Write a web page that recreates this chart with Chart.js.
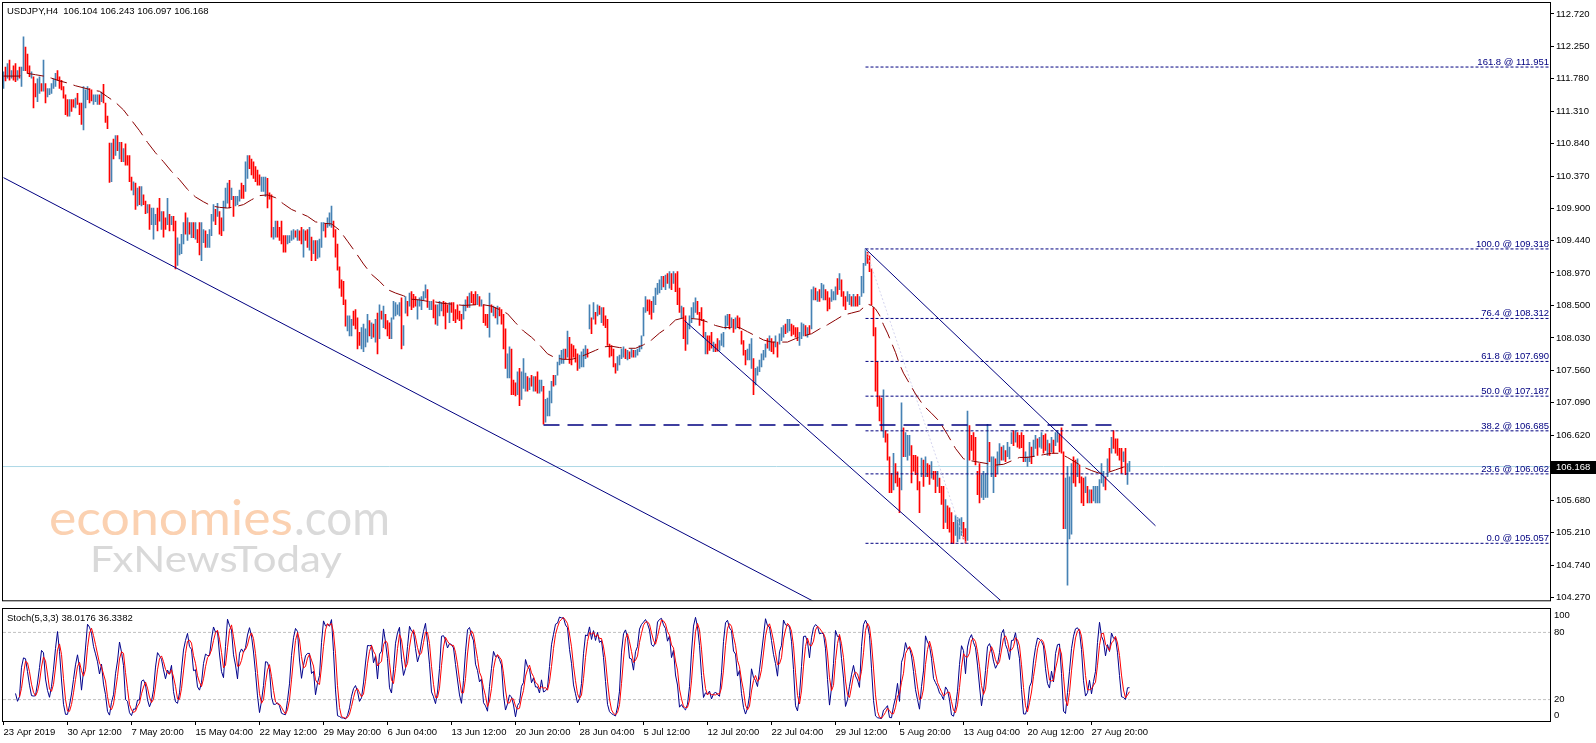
<!DOCTYPE html>
<html>
<head>
<meta charset="utf-8">
<script src="https://cdn.jsdelivr.net/npm/chart.js@4.4.1/dist/chart.umd.min.js"></script>
<style>
  html, body { margin: 0; padding: 0; background: #fff; overflow: hidden; }
  #wrap { position: relative; width: 1596px; height: 743px; }
  canvas { position: absolute; left: 0; }
  #mainCanvas { top: 0; }
  #oscCanvas { top: 608px; }
</style>
</head>
<body>
<div id="wrap">
  <canvas id="mainCanvas" width="1596" height="608"></canvas>
  <canvas id="oscCanvas" width="1596" height="135"></canvas>
</div>
<script>
// USDJPY H4 bars, 23 Apr - 2 Sep 2019 (one entry per bar)
const highs = [
  111.88,111.95,112.00,112.05,111.90,111.97,112.00,111.90,111.95,111.95,
  112.39,112.24,112.14,111.97,111.88,111.81,111.71,111.78,111.81,111.71,
  112.05,111.71,111.64,111.64,111.71,111.78,111.86,111.90,111.81,111.76,
  111.67,111.55,111.48,111.48,111.48,111.48,111.50,111.57,111.43,111.43,
  111.67,111.62,111.67,111.64,111.62,111.55,111.55,111.55,111.55,111.59,
  111.70,111.43,111.24,110.85,110.85,110.91,110.96,110.96,110.86,110.86,
  110.77,110.84,110.67,110.67,110.36,110.29,110.27,110.20,110.22,110.22,
  110.10,110.01,109.96,109.96,109.91,109.91,109.82,109.91,110.05,109.86,
  109.86,109.77,110.05,109.82,109.79,109.79,109.72,109.48,109.39,109.53,
  109.70,109.84,109.77,109.70,109.70,109.70,109.70,109.60,109.70,109.70,
  109.60,109.58,109.53,109.60,109.82,109.96,109.89,109.98,109.86,109.77,
  110.01,110.20,110.27,110.31,110.20,110.08,110.08,110.08,110.17,110.27,
  110.24,110.58,110.67,110.67,110.62,110.58,110.51,110.46,110.39,110.36,
  110.36,110.36,110.34,110.13,110.10,109.63,109.72,109.72,109.63,109.72,
  109.51,109.51,109.51,109.51,109.58,109.60,109.58,109.60,109.58,109.63,
  109.60,109.58,109.60,109.63,109.49,109.44,109.44,109.44,109.46,109.70,
  109.70,109.68,109.77,109.84,109.94,109.72,109.60,109.39,109.06,108.87,
  108.85,108.58,108.35,108.35,108.30,108.42,108.44,108.32,108.11,108.18,
  108.23,108.16,108.37,108.28,108.25,108.23,108.30,108.39,108.51,108.42,
  108.49,108.37,108.28,108.25,108.32,108.56,108.54,108.51,108.54,108.61,
  108.21,108.63,108.56,108.68,108.70,108.66,108.63,108.58,108.61,108.63,
  108.70,108.80,108.73,108.56,108.56,108.58,108.51,108.51,108.56,108.54,
  108.56,108.54,108.51,108.54,108.54,108.54,108.44,108.51,108.42,108.37,
  108.51,108.58,108.63,108.68,108.70,108.66,108.70,108.66,108.63,108.58,
  108.51,108.37,108.37,108.68,108.51,108.49,108.47,108.49,108.47,108.44,
  108.37,108.16,107.80,107.90,107.87,107.42,107.38,107.54,107.59,107.54,
  107.73,107.52,107.47,107.45,107.49,107.47,107.47,107.54,107.42,107.42,
  107.33,107.14,107.16,107.26,107.40,107.49,107.49,107.68,107.78,107.85,
  107.87,107.87,108.13,108.04,107.94,107.92,107.87,107.80,107.78,107.83,
  107.87,107.92,107.87,108.51,108.32,108.54,108.40,108.51,108.49,108.47,
  108.47,108.35,108.30,107.94,107.92,107.87,107.66,107.76,107.78,107.87,
  107.90,107.87,107.85,107.83,107.87,107.85,107.85,107.87,107.92,108.06,
  108.47,108.63,108.58,108.58,108.56,108.63,108.75,108.82,108.87,108.92,
  108.92,108.94,108.96,108.99,108.96,108.99,108.96,108.99,108.75,108.49,
  108.47,108.35,108.23,108.35,108.47,108.54,108.61,108.56,108.40,108.47,
  108.30,108.11,108.06,108.06,108.11,107.97,107.94,108.02,107.99,108.09,
  108.11,108.35,108.37,108.37,108.32,108.30,108.32,108.35,108.32,108.13,
  107.99,107.85,107.87,107.94,108.02,107.73,107.59,107.61,107.71,107.80,
  107.85,107.94,108.02,108.06,108.02,107.97,108.06,107.97,108.09,108.18,
  108.21,108.23,108.30,108.30,108.23,108.21,108.18,108.18,108.11,108.25,
  108.23,108.21,108.18,108.21,108.73,108.77,108.75,108.70,108.73,108.82,
  108.80,108.73,108.70,108.61,108.73,108.70,108.77,108.89,108.96,108.87,
  108.70,108.63,108.70,108.66,108.63,108.66,108.63,108.66,108.63,108.92,
  109.11,109.32,109.27,109.22,109.03,108.47,108.18,107.68,107.19,107.16,
  107.28,106.69,106.64,106.31,106.07,106.36,106.21,106.09,106.00,107.09,
  106.73,106.66,106.62,106.62,106.47,106.33,106.33,106.31,105.95,106.29,
  106.26,106.31,106.21,106.19,106.24,106.10,106.10,106.10,106.00,105.88,
  105.88,105.69,105.60,105.57,105.50,105.36,105.46,105.43,105.41,105.43,
  105.36,105.27,106.97,106.76,106.62,106.66,106.59,106.10,106.21,106.05,
  106.10,106.07,106.78,106.52,106.31,106.31,106.28,106.38,106.50,106.45,
  106.47,106.40,106.52,106.45,106.66,106.69,106.69,106.66,106.62,106.66,
  106.62,106.38,106.31,106.52,106.45,106.55,106.62,106.57,106.59,106.66,
  106.62,106.64,106.55,106.50,106.59,106.55,106.66,106.69,106.64,106.73,
  106.38,106.00,106.17,106.02,106.21,106.31,106.26,106.28,106.19,106.02,
  106.00,106.02,105.88,105.83,105.83,105.88,105.88,105.88,105.98,106.21,
  106.10,106.02,106.28,106.43,106.59,106.69,106.57,106.57,106.43,106.43,
  106.38,106.43,106.21,106.243
];
const lows = [
  111.64,111.75,111.79,111.76,111.79,111.76,111.74,111.76,111.79,111.67,
  111.90,111.90,111.86,111.81,111.79,111.36,111.52,111.45,111.57,111.60,
  111.60,111.43,111.52,111.55,111.57,111.64,111.67,111.76,111.64,111.62,
  111.50,111.26,111.24,111.24,111.31,111.37,111.36,111.41,111.26,111.12,
  111.04,111.36,111.48,111.43,111.46,111.41,111.45,111.41,111.41,111.45,
  111.43,111.15,111.06,110.28,110.29,110.62,110.67,110.74,110.62,110.58,
  110.58,110.53,110.53,110.29,110.17,110.10,109.89,109.94,109.96,109.94,
  109.96,109.83,109.84,109.60,109.67,109.46,109.67,109.58,109.72,109.60,
  109.49,109.60,109.67,109.58,109.67,109.58,109.03,109.08,109.23,109.25,
  109.39,109.53,109.44,109.53,109.48,109.48,109.46,109.41,109.23,109.15,
  109.41,109.34,109.34,109.34,109.51,109.72,109.67,109.79,109.53,109.51,
  109.58,109.91,109.98,109.91,110.03,109.79,109.94,109.96,110.01,110.05,
  110.05,110.15,110.34,110.48,110.39,110.34,110.29,110.24,110.24,110.15,
  110.15,110.08,109.91,110.04,109.49,109.46,109.49,109.49,109.44,109.39,
  109.27,109.27,109.39,109.41,109.44,109.46,109.49,109.44,109.44,109.39,
  109.20,109.44,109.34,109.30,109.15,109.25,109.15,109.18,109.20,109.34,
  109.58,109.49,109.63,109.65,109.63,109.49,109.20,109.01,108.75,108.63,
  108.51,108.20,108.13,108.06,108.06,108.21,108.16,107.87,107.92,107.87,
  107.83,107.90,107.97,108.06,108.02,108.04,107.97,107.80,108.02,108.30,
  108.18,108.16,108.06,108.02,108.02,108.30,108.35,108.37,108.35,107.87,
  107.92,108.39,108.35,108.49,108.44,108.47,108.49,108.30,108.49,108.44,
  108.58,108.61,108.47,108.44,108.44,108.32,108.23,108.21,108.35,108.42,
  108.35,108.16,108.40,108.25,108.40,108.28,108.25,108.30,108.28,108.16,
  108.30,108.42,108.47,108.47,108.54,108.51,108.51,108.51,108.49,108.49,
  108.25,108.21,108.18,108.04,108.40,108.35,108.32,108.23,108.35,108.23,
  107.87,107.59,107.45,107.45,107.21,107.21,107.19,107.21,107.05,107.14,
  107.30,107.26,107.26,107.28,107.33,107.26,107.26,107.23,107.23,107.26,
  106.78,106.81,106.90,106.90,107.09,107.33,107.35,107.49,107.64,107.66,
  107.66,107.73,107.75,107.66,107.64,107.75,107.68,107.56,107.59,107.61,
  107.61,107.73,107.75,108.16,108.09,108.30,108.23,108.35,108.37,108.25,
  108.21,108.18,107.92,107.75,107.77,107.61,107.52,107.56,107.64,107.73,
  107.75,107.73,107.71,107.73,107.75,107.75,107.75,107.78,107.83,107.87,
  108.06,108.40,108.42,108.37,108.30,108.40,108.51,108.66,108.68,108.73,
  108.77,108.73,108.82,108.75,108.73,108.82,108.70,108.51,108.40,108.32,
  108.02,107.85,107.94,108.16,108.25,108.32,108.40,108.37,108.21,108.28,
  108.04,107.80,107.80,107.85,107.88,107.83,107.83,107.84,107.85,107.92,
  107.90,108.16,108.21,108.16,108.18,108.11,108.16,108.18,108.16,107.94,
  107.78,107.64,107.71,107.71,107.59,107.21,107.35,107.49,107.54,107.61,
  107.71,107.75,107.88,107.85,107.83,107.80,107.90,107.75,107.94,107.99,
  108.04,108.09,108.11,108.13,108.06,108.08,108.04,107.99,107.92,108.02,
  108.06,108.06,108.04,108.09,108.16,108.58,108.58,108.56,108.56,108.61,
  108.58,108.58,108.42,108.45,108.56,108.58,108.58,108.66,108.73,108.63,
  108.49,108.44,108.56,108.51,108.49,108.49,108.49,108.49,108.51,108.63,
  108.68,109.08,109.11,108.99,108.51,108.06,107.26,107.04,106.83,106.69,
  106.59,106.52,106.26,105.79,105.79,105.83,105.93,105.88,105.50,105.83,
  106.31,106.31,106.26,106.33,105.93,106.10,106.05,105.83,105.50,106.02,
  105.88,106.02,106.02,105.91,106.00,105.98,105.79,105.88,105.79,105.62,
  105.27,105.36,105.27,105.22,105.05,105.05,105.17,105.08,105.12,105.17,
  105.12,105.06,105.10,106.26,106.40,106.26,106.19,105.76,105.64,105.72,
  105.69,105.72,105.72,106.24,106.02,105.79,106.02,106.07,106.19,106.26,
  106.26,106.24,106.31,106.28,106.50,106.47,106.52,106.45,106.43,106.44,
  106.24,106.24,106.17,106.24,106.21,106.31,106.43,106.33,106.45,106.43,
  106.36,106.40,106.33,106.33,106.38,106.36,106.47,106.52,106.38,106.36,
  105.27,105.27,104.45,105.12,105.19,105.93,105.88,106.02,105.93,105.64,
  105.60,105.79,105.64,105.64,105.64,105.67,105.64,105.64,105.64,105.93,
  105.88,105.83,106.02,106.10,106.36,106.43,106.36,106.33,106.26,106.07,
  106.24,106.05,105.91,106.097
];
const closes = [
  111.85,111.78,111.93,111.80,111.85,111.78,111.76,111.86,111.80,111.93,
  112.10,111.98,111.90,111.84,111.87,111.62,111.55,111.70,111.76,111.63,
  111.75,111.50,111.58,111.62,111.68,111.74,111.82,111.78,111.68,111.64,
  111.53,111.30,111.28,111.42,111.40,111.38,111.45,111.43,111.30,111.20,
  111.55,111.58,111.64,111.50,111.48,111.52,111.54,111.55,111.44,111.56,
  111.46,111.20,111.10,110.35,110.78,110.68,110.90,110.78,110.82,110.63,
  110.72,110.58,110.55,110.33,110.20,110.26,109.95,110.12,110.00,110.15,
  109.99,109.86,109.93,109.66,109.72,109.76,109.80,109.78,109.74,109.80,
  109.68,109.62,109.95,109.62,109.75,109.62,109.10,109.30,109.36,109.50,
  109.65,109.60,109.72,109.56,109.66,109.52,109.64,109.45,109.30,109.50,
  109.55,109.40,109.48,109.55,109.78,109.90,109.72,109.92,109.60,109.55,
  109.95,110.15,110.22,110.10,110.16,109.85,110.05,110.07,110.14,110.08,
  110.06,110.50,110.60,110.52,110.45,110.38,110.33,110.28,110.26,110.32,
  110.34,110.35,110.10,110.06,109.55,109.60,109.68,109.52,109.48,109.42,
  109.30,109.29,109.48,109.50,109.55,109.58,109.51,109.57,109.47,109.43,
  109.55,109.46,109.38,109.55,109.20,109.38,109.22,109.35,109.42,109.65,
  109.68,109.54,109.74,109.80,109.88,109.52,109.25,109.05,108.80,108.66,
  108.55,108.22,108.26,108.28,108.29,108.24,108.20,107.95,107.93,108.10,
  108.15,108.16,108.30,108.10,108.20,108.08,108.25,107.90,108.45,108.32,
  108.40,108.20,108.10,108.05,108.28,108.42,108.45,108.48,108.50,107.95,
  108.15,108.58,108.40,108.62,108.55,108.53,108.51,108.55,108.58,108.60,
  108.66,108.75,108.52,108.54,108.55,108.38,108.28,108.46,108.50,108.52,
  108.45,108.43,108.41,108.48,108.42,108.36,108.34,108.32,108.30,108.20,
  108.45,108.55,108.50,108.62,108.58,108.55,108.53,108.62,108.52,108.56,
  108.30,108.25,108.22,108.45,108.42,108.46,108.36,108.44,108.38,108.28,
  107.95,107.65,107.72,107.82,107.28,107.24,107.22,107.48,107.12,107.35,
  107.40,107.46,107.30,107.40,107.36,107.42,107.30,107.28,107.36,107.40,
  106.85,107.05,107.10,107.20,107.35,107.34,107.45,107.63,107.74,107.80,
  107.84,107.76,108.05,107.85,107.80,107.77,107.72,107.60,107.72,107.78,
  107.82,107.88,107.78,108.45,108.15,108.48,108.28,108.45,108.40,108.44,
  108.30,108.22,107.98,107.80,107.79,107.66,107.55,107.70,107.75,107.84,
  107.86,107.78,107.82,107.76,107.84,107.78,107.83,107.85,107.90,108.02,
  108.40,108.58,108.46,108.42,108.35,108.58,108.70,108.78,108.83,108.88,
  108.80,108.90,108.85,108.95,108.80,108.94,108.76,108.58,108.45,108.47,
  108.10,107.92,108.18,108.30,108.42,108.50,108.57,108.42,108.36,108.32,
  108.08,108.10,107.95,107.93,107.90,107.94,107.86,107.85,107.95,108.05,
  108.08,108.30,108.33,108.22,108.29,108.16,108.27,108.22,108.19,107.98,
  107.82,107.68,107.80,107.88,107.95,107.30,107.52,107.58,107.66,107.75,
  107.82,107.90,107.89,108.02,107.88,107.84,108.02,107.80,108.05,108.14,
  108.18,108.12,108.26,108.28,108.10,108.09,108.06,108.02,108.08,108.20,
  108.22,108.10,108.15,108.12,108.65,108.72,108.62,108.66,108.60,108.78,
  108.79,108.62,108.48,108.46,108.68,108.69,108.74,108.70,108.90,108.68,
  108.54,108.48,108.65,108.66,108.52,108.62,108.53,108.51,108.60,108.88,
  109.05,109.25,109.15,109.03,108.58,108.12,107.35,107.10,106.90,106.75,
  107.05,106.55,106.32,105.85,105.82,106.25,106.00,105.92,105.58,106.90,
  106.40,106.58,106.60,106.61,106.20,106.14,106.09,105.90,105.55,106.20,
  105.95,106.25,106.05,105.98,106.18,106.00,105.85,106.05,105.82,105.66,
  105.55,105.62,105.32,105.26,105.10,105.07,105.25,105.30,105.38,105.41,
  105.18,105.10,106.70,106.50,106.45,106.30,106.25,105.80,105.70,105.98,
  106.05,106.06,106.60,106.27,106.29,106.30,106.08,106.32,106.45,106.30,
  106.42,106.28,106.38,106.42,106.62,106.52,106.64,106.50,106.46,106.45,
  106.26,106.28,106.29,106.45,106.28,106.50,106.58,106.40,106.55,106.62,
  106.42,106.41,106.50,106.38,106.55,106.40,106.62,106.66,106.45,106.40,
  105.35,105.40,105.60,105.90,106.10,106.00,105.95,106.20,105.98,105.70,
  105.66,105.95,105.70,105.78,105.68,105.82,105.85,105.86,105.94,106.00,
  106.05,105.88,106.22,106.15,106.52,106.48,106.40,106.38,106.30,106.12,
  106.32,106.08,106.10,106.168
];

// moving average (bar index -> value)
const maIdx = [0,8,12,16,20,24,28,32,36,40,44,48,52,56,60,64,68,72,76,80,84,88,92,96,100,104,108,112,116,120,
  124,128,132,136,140,144,148,152,156,160,164,168,172,176,180,184,188,192,196,200,204,208,212,216,220,224,230,236,240,244,
  248,252,256,260,264,268,272,276,280,284,288,292,296,300,304,308,312,316,320,324,328,332,336,340,344,348,352,356,360,364,
  368,372,376,380,384,388,392,396,400,404,408,412,416,420,424,428,432,434,436,438,440,442,444,446,448,450,452,456,460,464,
  468,472,476,480,484,488,492,496,500,504,508,512,516,520,524,528,532,536,540,544,548,552,556,560,563];
const maVal = [111.82,111.82,111.86,111.84,111.82,111.79,111.75,111.72,111.68,111.65,111.62,111.60,111.52,111.44,111.33,111.18,111.03,110.86,110.71,110.58,110.44,110.32,110.18,110.07,110.00,109.94,109.92,109.91,109.93,109.96,
  110.03,110.09,110.10,110.06,109.97,109.89,109.84,109.79,109.71,109.69,109.68,109.59,109.43,109.27,109.10,108.95,108.85,108.73,108.68,108.64,108.59,108.58,108.56,108.55,108.53,108.52,108.50,108.51,108.51,108.49,
  108.44,108.38,108.25,108.13,108.04,107.93,107.80,107.74,107.72,107.72,107.75,107.80,107.85,107.90,107.91,107.89,107.88,107.88,107.93,108.00,108.10,108.18,108.29,108.32,108.31,108.30,108.26,108.21,108.18,108.18,
  108.18,108.12,108.06,108.00,107.97,107.97,107.97,108.02,108.06,108.09,108.16,108.22,108.29,108.36,108.39,108.42,108.52,108.50,108.45,108.36,108.22,108.10,107.96,107.82,107.65,107.52,107.42,107.22,107.05,106.94,
  106.82,106.63,106.43,106.28,106.25,106.23,106.21,106.19,106.20,106.25,106.30,106.30,106.32,106.34,106.36,106.36,106.30,106.23,106.16,106.11,106.07,106.08,106.12,106.16,106.18];

const priceTicks = [112.72,112.25,111.78,111.31,110.84,110.37,109.90,109.44,108.97,108.50,108.03,107.56,107.09,106.62,105.68,105.21,104.74,104.27];
const dateIdx = [0,32,64,96,128,160,192,224,256,288,320,352,384,416,448,480,512,544];
const dateLabels = ['23 Apr 2019','30 Apr 12:00','7 May 20:00','15 May 04:00','22 May 12:00','29 May 20:00','6 Jun 04:00','13 Jun 12:00','20 Jun 20:00','28 Jun 04:00','5 Jul 12:00','12 Jul 20:00','22 Jul 04:00','29 Jul 12:00','5 Aug 20:00','13 Aug 04:00','20 Aug 12:00','27 Aug 20:00'];

// fibonacci retracement drawn from the 109.318 top (bar 431) to the 105.057 low (bar 481)
const fibPct = ['161.8','100.0','76.4','61.8','50.0','38.2','23.6','0.0'];
const fibVal = [111.951,109.318,108.312,107.690,107.187,106.685,106.062,105.057];
const fibFrom = 431, fibLow = 481;

// trend lines: [barIndex, price] pairs
const lowerChannel = [[0, 110.35], [420, 103.99]];
const midChannel = [[340.5, 108.28], [520, 103.68]];
const upperChannel = [[431, 109.32], [576, 105.31]];
const supportLevel = 106.77, supportFrom = 270, supportTo = 555;

const lastPrice = 106.168;
const title = 'USDJPY,H4  106.104 106.243 106.097 106.168';
const stochTitle = 'Stoch(5,3,3) 38.0176 36.3382';
const stochLevels = [80, 20];

const X_MIN = -0.25, X_MAX = 773.25;
const FONT = "'Liberation Sans', Arial, sans-serif";
const FSIZE = 9.5;
const UP = '#4682B4', DOWN = '#FF0000', NAVY = '#000080';

const pts = pairs => pairs.map(p => ({x: p[0], y: p[1]}));
const hline = (v, a, b) => [{x: a, y: v}, {x: b, y: v}];
const lineDs = (data, color, extra) => Object.assign({
  type: 'line', data, borderColor: color, borderWidth: 1, pointRadius: 0,
  fill: false, tension: 0, order: 2
}, extra || {});

// stochastic %K(5) slowing 3, %D(3) from the bars above
function stochastic(kPer, slow, dPer) {
  const k = [], d = [];
  for (let i = 0; i < closes.length; i++) {
    if (i < kPer + slow - 2) { k.push(null); continue; }
    let num = 0, den = 0;
    for (let j = i - slow + 1; j <= i; j++) {
      const hh = Math.max(...highs.slice(j - kPer + 1, j + 1));
      const ll = Math.min(...lows.slice(j - kPer + 1, j + 1));
      num += closes[j] - ll;
      den += hh - ll;
    }
    k.push(den ? 100 * num / den : 100);
  }
  for (let i = 0; i < k.length; i++) {
    const w = k.slice(Math.max(0, i - dPer + 1), i + 1);
    d.push(w.length === dPer && w.every(v => v !== null) ? w.reduce((a, b) => a + b) / dPer : null);
  }
  return {k, d};
}
const stoch = stochastic(5, 3, 3);

const barColors = closes.map((c, i) => c >= (i ? closes[i - 1] : lows[0]) ? UP : DOWN);

const datasets = [
  lineDs(maIdx.map((x, k) => ({x, y: maVal[k]})), '#8B0000', {borderDash: [17, 7], order: 1}),
  lineDs(pts(lowerChannel), NAVY),
  lineDs(pts(midChannel), NAVY),
  lineDs(pts(upperChannel), NAVY),
  lineDs([{x: fibFrom, y: fibVal[1]}, {x: fibLow, y: fibVal[7]}], '#D4D4EE', {borderDash: [2, 2]}),
  lineDs(hline(supportLevel, supportFrom, supportTo), NAVY, {borderDash: [16, 8], borderWidth: 1.5}),
  ...fibVal.map(v => lineDs(hline(v, fibFrom, X_MAX), NAVY, {borderDash: [3, 2]})),
  {
    type: 'bar', data: highs.map((h, i) => ({x: i, y: [lows[i], h]})),
    backgroundColor: barColors, barThickness: 1, borderWidth: 0, order: 3
  },
  lineDs(hline(lastPrice, X_MIN, X_MAX), '#ADD8E6', {order: 4})
];

function fitText(ctx, text, x, base, width, size, color) {
  ctx.font = size + 'px Lato, "Open Sans", sans-serif';
  const w = ctx.measureText(text).width;
  ctx.save();
  ctx.translate(x, base);
  ctx.scale(width / w, 1);
  ctx.fillStyle = color;
  ctx.textAlign = 'left';
  ctx.textBaseline = 'alphabetic';
  ctx.fillText(text, 0, 0);
  ctx.restore();
}

const mainDecor = {
  id: 'mainDecor',
  beforeDatasetsDraw(chart) {
    const ctx = chart.ctx;
    fitText(ctx, 'economies', 49, 535, 244, 49, '#FBD1B1');
    fitText(ctx, '.com', 294, 535, 96, 49, '#DADADA');
    fitText(ctx, 'FxNewsToday', 90, 572, 252, 37, '#D9D9D9');
  },
  afterDraw(chart) {
    const ctx = chart.ctx, a = chart.chartArea, y = chart.scales.y;
    ctx.save();
    ctx.strokeStyle = '#000';
    ctx.lineWidth = 1;
    ctx.strokeRect(2.5, 2.5, a.right - 2, a.bottom - 2);
    ctx.font = FSIZE + 'px ' + FONT;
    ctx.fillStyle = '#000';
    ctx.textBaseline = 'middle';
    ctx.textAlign = 'left';
    ctx.fillText(title, a.left + 4, 11);
    ctx.fillStyle = NAVY;
    ctx.textAlign = 'right';
    ctx.textBaseline = 'alphabetic';
    fibVal.forEach((v, k) => {
      ctx.fillText(fibPct[k] + ' @ ' + v.toFixed(3), a.right - 1, y.getPixelForValue(v) - 2);
    });
    const py = y.getPixelForValue(lastPrice);
    ctx.fillStyle = '#000';
    ctx.fillRect(a.right + 1, Math.round(py) - 6, 46, 13);
    ctx.fillStyle = '#fff';
    ctx.textAlign = 'left';
    ctx.textBaseline = 'middle';
    ctx.fillText(lastPrice.toFixed(3), a.right + 6, py + 0.5);
    ctx.restore();
  }
};

new Chart(document.getElementById('mainCanvas'), {
  type: 'bar',
  data: {datasets},
  options: {
    responsive: false,
    animation: false,
    devicePixelRatio: 1,
    events: [],
    layout: {padding: {left: 3, top: 3, right: 0, bottom: 2}},
    plugins: {legend: {display: false}, tooltip: {enabled: false}},
    scales: {
      x: {type: 'linear', min: X_MIN, max: X_MAX, offset: false, display: false},
      y: {
        position: 'right', min: 104.232, max: 112.81,
        afterBuildTicks: s => { s.ticks = priceTicks.map(v => ({value: v})); },
        afterFit: s => { s.width = 46; },
        ticks: {callback: v => v.toFixed(3), color: '#000', font: {family: FONT, size: FSIZE}, padding: 2, autoSkip: false},
        grid: {drawOnChartArea: false, color: '#000', tickLength: 4},
        border: {display: false}
      }
    }
  },
  plugins: [mainDecor]
});

const oscDecor = {
  id: 'oscDecor',
  afterDraw(chart) {
    const ctx = chart.ctx, a = chart.chartArea, y = chart.scales.y;
    ctx.save();
    ctx.strokeStyle = '#000';
    ctx.lineWidth = 1;
    ctx.strokeRect(2.5, 0.5, a.right - 2, a.bottom - 1);
    ctx.font = FSIZE + 'px ' + FONT;
    ctx.fillStyle = '#000';
    ctx.textBaseline = 'middle';
    ctx.textAlign = 'left';
    ctx.fillText(stochTitle, a.left + 4, 10);
    [100, 80, 20, 0].forEach(v => {
      const py = Math.min(Math.max(y.getPixelForValue(v), a.top + 5), a.bottom - 7);
      ctx.fillText(String(v), a.right + 4, py);
    });
    ctx.restore();
  }
};

new Chart(document.getElementById('oscCanvas'), {
  type: 'line',
  data: {
    datasets: [
      lineDs(stoch.d.map((v, i) => ({x: i, y: v})), '#FF0000', {order: 1}),
      lineDs(stoch.k.map((v, i) => ({x: i, y: v})), '#00008B', {order: 2}),
      ...stochLevels.map(v => lineDs(hline(v, X_MIN, X_MAX), '#C0C0C0', {borderDash: [3, 2], order: 3}))
    ]
  },
  options: {
    responsive: false,
    animation: false,
    devicePixelRatio: 1,
    events: [],
    layout: {padding: {left: 3, top: 2, right: 0, bottom: 0}},
    plugins: {legend: {display: false}, tooltip: {enabled: false}},
    scales: {
      x: {
        type: 'linear', min: X_MIN, max: X_MAX, offset: false, position: 'bottom',
        afterBuildTicks: s => { s.ticks = dateIdx.map(v => ({value: v})); },
        afterFit: s => { s.height = 21; },
        ticks: {
          callback: (v, i) => dateLabels[i], align: 'start', autoSkip: false,
          maxRotation: 0, minRotation: 0, color: '#000', font: {family: FONT, size: FSIZE}, padding: 2
        },
        grid: {drawOnChartArea: false, color: '#000', tickLength: 3},
        border: {display: false}
      },
      y: {
        position: 'right', min: 0, max: 100,
        afterFit: s => { s.width = 46; },
        ticks: {display: false},
        grid: {display: false},
        border: {display: false}
      }
    }
  },
  plugins: [oscDecor]
});
</script>
</body>
</html>
